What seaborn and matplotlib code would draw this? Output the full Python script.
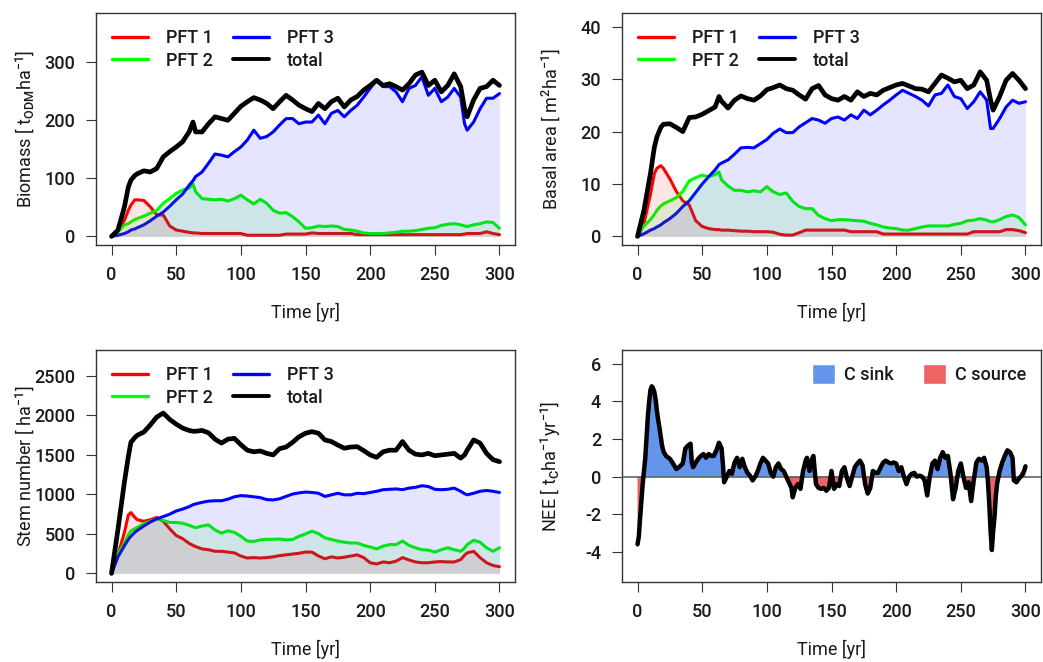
import numpy as np
import pandas as pd
import seaborn as sns
import matplotlib
matplotlib.use("Agg")
import matplotlib.pyplot as plt
from matplotlib.lines import Line2D
from matplotlib.patches import Patch

# ---- data ----
years = [0, 5, 10, 13, 15, 18, 20, 25, 30, 35, 40, 45, 50, 55, 60, 63, 65, 70, 75, 80,
         85, 90, 95, 100, 105, 110, 115, 120, 125, 130, 135, 140, 145, 150, 155, 160,
         165, 170, 175, 180, 185, 190, 195, 200, 205, 210, 215, 220, 225, 230, 235,
         240, 245, 250, 255, 260, 265, 270, 273, 275, 280, 285, 290, 295, 300]

# biomass [t_ODM/ha]
bio_total = [0, 11, 51, 85, 97, 105, 108, 113, 111, 117, 137, 146, 154, 163, 180, 197, 180, 180, 194, 206,
             203, 200, 212, 224, 232, 239, 235, 229, 220, 232, 243, 235, 226, 220, 215, 229,
             220, 232, 238, 223, 235, 241, 252, 260, 269, 260, 263, 258, 252, 263, 278,
             283, 260, 269, 249, 260, 280, 258, 220, 206, 235, 255, 258, 269, 260]
bio_pft3 = [0, 2, 5, 8, 11, 13, 15, 20, 27, 35, 42, 52, 63, 73, 88, 96, 103, 111, 126, 142,
            140, 137, 146, 154, 166, 183, 169, 172, 180, 192, 203, 203, 194, 197, 197, 209,
            194, 212, 217, 206, 217, 226, 240, 255, 269, 258, 258, 249, 232, 255, 260,
            275, 243, 255, 232, 240, 255, 240, 194, 183, 197, 220, 238, 238, 246]
bio_pft2 = [0, 8, 20, 22, 25, 29, 31, 35, 40, 45, 57, 65, 74, 80, 83, 90, 77, 65, 64, 63,
            64, 61, 65, 71, 63, 56, 64, 57, 45, 40, 41, 34, 25, 14, 15, 18,
            17, 18, 17, 12, 11, 9, 6, 5, 5, 5, 6, 7, 9, 9, 10,
            12, 14, 15, 19, 21, 22, 20, 18, 17, 20, 22, 25, 24, 14]
bio_pft1 = [0, 11, 28, 45, 54, 63, 63, 62, 51, 37, 37, 18, 11, 9, 7, 6, 6, 5, 5, 5,
            5, 5, 5, 5, 2, 2, 2, 2, 2, 2, 4, 4, 4, 4, 6, 5,
            5, 5, 5, 5, 5, 3, 3, 3, 3, 3, 3, 3, 3, 3, 3,
            3, 3, 3, 3, 3, 3, 3, 4, 5, 5, 5, 8, 5, 3]

# basal area [m2/ha]
ba_total = [0, 5, 12, 17, 19, 20.8, 21.4, 21.5, 20.8, 20, 22.7, 22.8, 23.3, 24, 24.7, 26.7, 25.8, 24.5, 26, 26.8,
            26.3, 26, 26.8, 28, 28.4, 28.9, 28.2, 27.9, 27, 26.2, 28.2, 28.8, 27, 26.3, 26, 26.7,
            26, 27.6, 26.7, 27.3, 27, 27.9, 28.4, 28.9, 29.2, 28.7, 28.2, 28.1, 27.6, 29.2, 30.8,
            30.2, 29.5, 29.8, 28.2, 28.9, 31.4, 29.8, 26, 24.1, 26.7, 29.8, 31.1, 29.8, 28.2]
ba_pft3 = [0, 0.5, 1.2, 1.5, 1.8, 2.2, 2.6, 3.4, 4.4, 5.7, 6.8, 8.4, 10, 11.4, 12.7, 13.7, 14, 14.6, 15.7, 16.9,
           17, 16.9, 17.7, 18.5, 19.7, 20.5, 19.8, 19.8, 20.9, 21.7, 22.5, 22.2, 21.6, 22.5, 22.8, 22.2,
           23.2, 22.5, 24.1, 23.2, 24.1, 25.1, 26, 27, 27.9, 27.3, 26.7, 26, 24.9, 27, 27.3,
           28.9, 26.7, 26.3, 24.4, 25.7, 27.6, 26, 20.6, 20.6, 22.5, 24.7, 26, 25.4, 25.7]
ba_pft2 = [0, 2, 3.2, 4.2, 5, 5.8, 6.2, 6.8, 7.4, 8.6, 10.6, 11.2, 11.7, 11.4, 11.8, 12.3, 10.8, 9.6, 8.8, 8.8,
           8.5, 8.7, 8.5, 9.5, 8.5, 8, 8.3, 6.7, 5.7, 5.3, 5.3, 4, 3.4, 3, 3.2, 3.2,
           3.1, 3, 2.9, 2.5, 2.2, 1.8, 1.6, 1.5, 1.2, 1.2, 1.5, 1.8, 2, 2, 2,
           2, 2.3, 2.5, 3, 3.1, 3.4, 3.1, 2.8, 2.8, 3.2, 3.8, 4.1, 3.6, 2.2]
ba_pft1 = [0, 2.5, 8, 12, 13, 13.5, 13, 11, 8.6, 6.8, 6, 3, 1.9, 1.5, 1.3, 1.3, 1.2, 1.2, 1.1, 1,
           1, 0.9, 0.9, 0.9, 0.8, 0.4, 0.25, 0.25, 0.7, 1.2, 1.2, 1.2, 1.2, 1.2, 1.2, 1.2,
           0.9, 0.9, 0.9, 0.9, 0.9, 0.45, 0.45, 0.45, 0.45, 0.45, 0.45, 0.45, 0.45, 0.45, 0.45,
           0.45, 0.45, 0.45, 0.45, 0.9, 0.9, 0.9, 0.9, 0.9, 0.9, 1.3, 1.3, 1.1, 0.7]

# stem number [1/ha]
sn_total = [0, 560, 1160, 1480, 1660, 1720, 1750, 1790, 1880, 1980, 2030, 1950, 1890, 1840, 1810, 1800, 1800, 1810, 1780, 1700,
            1650, 1700, 1710, 1630, 1560, 1540, 1550, 1520, 1500, 1580, 1600, 1660, 1730, 1775, 1795, 1775,
            1690, 1670, 1625, 1585, 1600, 1605, 1555, 1500, 1470, 1540, 1560, 1560, 1670, 1560, 1510,
            1500, 1520, 1490, 1500, 1510, 1520, 1460, 1500, 1560, 1690, 1650, 1520, 1440, 1415]
sn_pft3 = [0, 210, 350, 430, 470, 520, 545, 600, 650, 690, 720, 750, 790, 815, 845, 870, 880, 900, 915, 920,
           920, 940, 970, 985, 980, 970, 960, 935, 930, 945, 975, 1005, 1020, 1030, 1025, 1015,
           975, 995, 1015, 995, 995, 1015, 1010, 1025, 1040, 1060, 1065, 1070, 1060, 1080, 1090,
           1110, 1100, 1065, 1060, 1065, 1080, 1040, 1010, 995, 1015, 1040, 1050, 1040, 1025]
sn_pft2 = [0, 240, 390, 490, 540, 565, 585, 630, 660, 690, 670, 645, 645, 635, 610, 590, 578, 600, 615, 550,
           510, 540, 520, 470, 410, 405, 425, 432, 432, 435, 425, 430, 470, 500, 535, 505,
           450, 430, 410, 395, 385, 385, 355, 335, 310, 345, 365, 365, 410, 355, 325,
           300, 295, 270, 300, 325, 300, 280, 320, 365, 420, 395, 325, 280, 325]
sn_pft1 = [0, 240, 520, 740, 770, 710, 680, 660, 680, 710, 660, 565, 480, 440, 380, 355, 340, 310, 300, 280,
           280, 270, 260, 220, 195, 200, 195, 200, 210, 225, 235, 245, 255, 270, 270, 220,
           185, 210, 195, 205, 220, 235, 200, 135, 120, 145, 135, 155, 200, 170, 145,
           135, 135, 145, 150, 145, 145, 175, 230, 260, 280, 200, 135, 100, 85]

# net ecosystem exchange [t_C/ha/yr]
nee_year = [0, 1, 2, 3, 4, 5, 6, 7, 8, 9, 10, 11, 12, 13, 14, 15, 16, 17, 18, 19, 20, 22, 25, 27, 30,
            32, 35, 37, 39, 41, 42, 43, 45, 47, 49, 51, 53, 55, 57, 59, 61, 63, 65, 66, 67, 69,
            71, 73, 75, 77, 79, 81, 83, 85, 87, 89, 91, 93, 95, 97, 99, 101, 103, 105, 107, 109,
            111, 113, 115, 117, 119, 120, 122, 124, 126, 128, 130, 131, 133, 135, 136, 138, 140,
            142, 144, 146, 148, 150, 152, 154, 156, 158, 160, 162, 164, 166, 168, 170, 172, 174,
            176, 178, 180, 182, 184, 186, 188, 190, 192, 194, 196, 198, 200, 202, 204, 206, 208,
            210, 212, 214, 216, 218, 220, 222, 224, 226, 228, 230, 232, 234, 236, 238, 240, 242,
            244, 246, 248, 250, 252, 254, 256, 258, 260, 262, 264, 266, 268, 270, 271, 272, 273,
            274, 275, 276, 277, 278, 280, 282, 284, 286, 288, 290, 291, 293, 295, 297, 299, 300]
nee = [-3.6, -3.2, -2.2, -1.3, -0.4, 0.3, 1.0, 2.1, 3.2, 4.0, 4.6, 4.8, 4.7, 4.5, 4.1, 3.5, 3.0, 2.6, 2.1, 1.65, 1.35, 1.1, 0.95, 0.75, 0.4,
       0.5, 0.7, 1.5, 1.65, 1.75, 0.75, 0.5, 0.75, 0.95, 1.1, 1.2, 1.0, 1.2, 1.1, 1.1, 1.4, 1.8, 1.5, 0.7, -0.3, 0,
       0.3, 0.15, 0.75, 1.0, 0.5, 0.95, 0.5, 0.2, 0.05, -0.2, 0, 0.3, 0.7, 1.0, 0.85, 0.7, 0.2, 0, 0.5, 0.7,
       0.4, 0.3, 0, -0.3, -0.6, -1.1, -0.6, -0.4, -0.65, 0.3, 0.85, 1.0, 0.3, 0.95, 1.1, -0.4, -0.6,
       -0.65, -0.6, -0.75, -0.6, 0.3, -0.65, -0.4, -0.5, 0.3, 0.5, -0.1, -0.5, 0, 0.5, 0.7, 0.85, 0.6,
       -0.4, -0.9, -0.6, 0.3, 0.2, 0.2, 0.5, 0.75, 0.85, 0.75, 0.7, 0.75, 0.7, 0.3, 0.5, 0, -0.4,
       0, 0.15, 0.2, 0, 0.05, 0, -0.2, -1.0, 0, 0.7, 0.85, 0.4, 1.0, 1.3, 1.0, 1.1, 0.15,
       -1.2, -0.6, 0.3, 0.7, 0, -0.6, -0.3, -1.3, -0.2, 0.75, 0.95, 0.85, 1.0, 0.5, -0.3, -1.45, -2.9,
       -3.9, -2.9, -2.2, -1.1, -0.4, 0.3, 0.75, 1.1, 1.4, 1.3, 1.0, -0.2, -0.3, -0.1, 0.05, 0.3, 0.55]

pft_labels = ["PFT 1", "PFT 2", "PFT 3", "total"]
pft_colors = ["#ff0000", "#00ff00", "#0000ff", "#000000"]

sns.set_theme(style="white")
plt.rcParams["font.family"] = ["Roboto", "DejaVu Sans"]
plt.rcParams["font.weight"] = "medium"
plt.rcParams["mathtext.fontset"] = "custom"
plt.rcParams["mathtext.rm"] = "Roboto:medium"
plt.rcParams["mathtext.it"] = "Roboto:italic"
plt.rcParams["axes.unicode_minus"] = False

TXT = "#1a1a1a"
FS = 13


def style_axes(ax, ylabel, yticks, ylim):
    ax.set_xlim(-12, 312)
    ax.set_ylim(*ylim)
    ax.set_xticks([0, 50, 100, 150, 200, 250, 300])
    ax.set_yticks(yticks)
    ax.tick_params(bottom=True, left=True, direction="out", length=7, width=0.8,
                   pad=8, labelsize=FS, color="#333333", labelcolor=TXT)
    for sp in ax.spines.values():
        sp.set_color("#333333")
        sp.set_linewidth(1.0)
    ax.set_xlabel("Time [yr]", fontsize=FS, color=TXT)
    ax.set_ylabel(ylabel, fontsize=FS, color=TXT)
    ax.xaxis.set_label_coords(0.5, -0.29)
    ax.xaxis.label.set_verticalalignment("center")
    ax.yaxis.set_label_coords(-0.17, 0.5)
    ax.yaxis.label.set_verticalalignment("center")


def draw_pft(ax, df, ylabel, yticks, ylim):
    cols = ["pft1", "pft2", "pft3"]
    # coloured lines first, translucent areas on top (as in the original)
    for i, c in enumerate(cols):
        sns.lineplot(data=df, x="year", y=c, color=pft_colors[i], lw=2.2,
                     estimator=None, ax=ax, zorder=2)
    for i, c in enumerate(cols):
        ax.fill_between(df["year"], 0, df[c], color=pft_colors[i], alpha=0.1,
                        lw=0, zorder=3)
    sns.lineplot(data=df, x="year", y="total", color="black", lw=3.4,
                 estimator=None, ax=ax, zorder=4)
    handles = [Line2D([0], [0], color=pft_colors[i], lw=2.8 if i == 3 else 2.4)
               for i in range(4)]
    ax.legend(handles, pft_labels, ncol=2, loc="upper left", frameon=False,
              fontsize=FS, handlelength=2.0, handletextpad=1.0, columnspacing=1.1,
              labelspacing=0.25, borderaxespad=0.5, labelcolor=TXT)
    style_axes(ax, ylabel, yticks, ylim)


fig = plt.figure(figsize=(10.43, 6.62), dpi=100)
W, H = 1043, 662
ax_tl = fig.add_axes([96 / W, 1 - 245 / H, 419 / W, 232 / H])
ax_tr = fig.add_axes([622 / W, 1 - 245 / H, 419 / W, 232 / H])
ax_bl = fig.add_axes([96 / W, 1 - 582 / H, 419 / W, 232 / H])
ax_br = fig.add_axes([622 / W, 1 - 582 / H, 419 / W, 232 / H])

bio = pd.DataFrame({"year": years, "pft1": bio_pft1, "pft2": bio_pft2, "pft3": bio_pft3, "total": bio_total})
ba = pd.DataFrame({"year": years, "pft1": ba_pft1, "pft2": ba_pft2, "pft3": ba_pft3, "total": ba_total})
sn = pd.DataFrame({"year": years, "pft1": sn_pft1, "pft2": sn_pft2, "pft3": sn_pft3, "total": sn_total})

draw_pft(ax_tl, bio, r"Biomass [ t$_{\mathrm{ODM}}$ha$^{-1}$]", [0, 100, 200, 300], (-14.8, 384.8))
draw_pft(ax_tr, ba, r"Basal area [ m$^{2}$ha$^{-1}$]", [0, 10, 20, 30, 40], (-1.64, 42.64))
draw_pft(ax_bl, sn, r"Stem number [ ha$^{-1}$]", [0, 500, 1000, 1500, 2000, 2500], (-108.8, 2828.8))

# NEE panel
nee_df = pd.DataFrame({"year": nee_year, "nee": nee})
sink_col = "#6495ed"
source_col = "#ee6363"
nv = np.array(nee)
ax_br.fill_between(nee_year, 0, nv, where=nv >= 0, interpolate=True, color=sink_col, lw=0, zorder=2)
ax_br.fill_between(nee_year, 0, nv, where=nv <= 0, interpolate=True, color=source_col, lw=0, zorder=2)
ax_br.axhline(0, color="#555555", lw=1.1, zorder=3)
sns.lineplot(data=nee_df, x="year", y="nee", color="black", lw=3.2, estimator=None, ax=ax_br, zorder=4)
ax_br.legend([Patch(facecolor=sink_col), Patch(facecolor=source_col)], ["C sink", "C source"],
             ncol=2, loc="upper right", frameon=False, fontsize=FS, handlelength=1.3,
             handleheight=1.3, handletextpad=0.5, columnspacing=1.6, borderaxespad=0.4,
             labelcolor=TXT)
style_axes(ax_br, r"NEE [ t$_{\mathrm{C}}$ha$^{-1}$yr$^{-1}$]", [-4, -2, 0, 2, 4, 6], (-5.6, 6.73))

fig.savefig("out.png", dpi=100)
